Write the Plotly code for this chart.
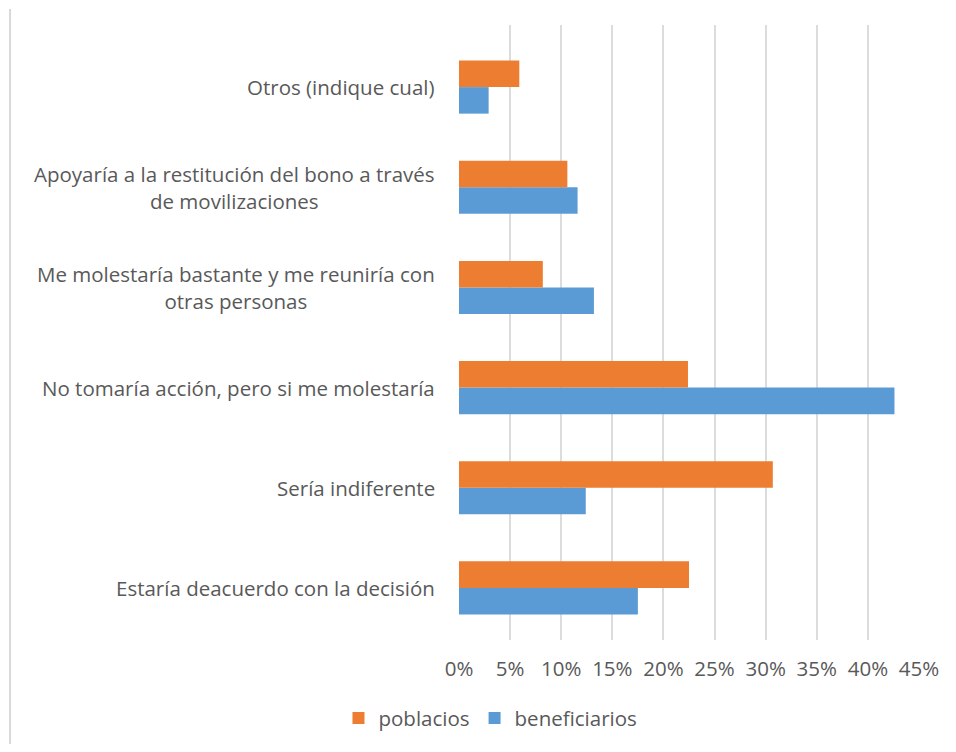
import plotly.graph_objects as go

categorias = [
    "Estaría deacuerdo con la decisión",
    "Sería indiferente",
    "No tomaría acción, pero si me molestaría",
    "Me molestaría bastante y me reuniría con<br>otras personas",
    "Apoyaría a la restitución del bono a través<br>de movilizaciones",
    "Otros (indique cual)",
]
poblacios = [0.225, 0.307, 0.224, 0.082, 0.106, 0.059]
beneficiarios = [0.175, 0.124, 0.426, 0.132, 0.116, 0.029]
ticks = [0, 0.05, 0.10, 0.15, 0.20, 0.25, 0.30, 0.35, 0.40, 0.45]

gris = "#595959"
fuente = "Open Sans"
tam = 20.5
y_pos = list(range(len(categorias)))

fig = go.Figure()
fig.add_trace(go.Bar(y=y_pos, x=beneficiarios, orientation="h", name="beneficiarios",
                     marker=dict(color="#5B9BD5", line=dict(width=0))))
fig.add_trace(go.Bar(y=y_pos, x=poblacios, orientation="h", name="poblacios",
                     marker=dict(color="#ED7D31", line=dict(width=0))))

# etiquetas de categoría centradas (como en Excel)
for i, c in enumerate(categorias):
    fig.add_annotation(x=0, xref="paper", xshift=-22, xanchor="right",
                       y=i, yref="y", yanchor="middle",
                       text=c, align="center", showarrow=False,
                       font=dict(family=fuente, size=tam, color=gris))

# borde izquierdo del área del gráfico
fig.add_shape(type="line", xref="paper", yref="paper",
              x0=-0.976, x1=-0.976, y0=1.026, y1=-0.2,
              line=dict(color="#d9d9d9", width=2))

# la página html tiene 8 px de margen en el body
fig.update_layout(
    width=940, height=736,
    margin=dict(l=451, r=29, t=17, b=104),
    paper_bgcolor="white", plot_bgcolor="white",
    barmode="group", bargap=0.47, bargroupgap=0,
    font=dict(family=fuente, size=tam, color=gris),
    showlegend=True,
    legend=dict(orientation="h", traceorder="reversed",
                x=-0.262, xanchor="left",
                yref="container", y=0.035, yanchor="middle",
                font=dict(family=fuente, size=tam, color=gris),
                itemwidth=30, itemsizing="constant"),
)
fig.update_xaxes(range=[0, 0.45], tickvals=ticks, tickformat=".0%",
                 showgrid=True, gridcolor="#dcdcdc", gridwidth=1.5,
                 zeroline=False, showline=False, automargin=False,
                 ticklabelstandoff=14, tickfont=dict(size=tam, color=gris))
fig.update_yaxes(range=[-0.52, 5.62], showticklabels=False, showgrid=False,
                 zeroline=False, showline=False, automargin=False)

fig.write_html("out.html")
